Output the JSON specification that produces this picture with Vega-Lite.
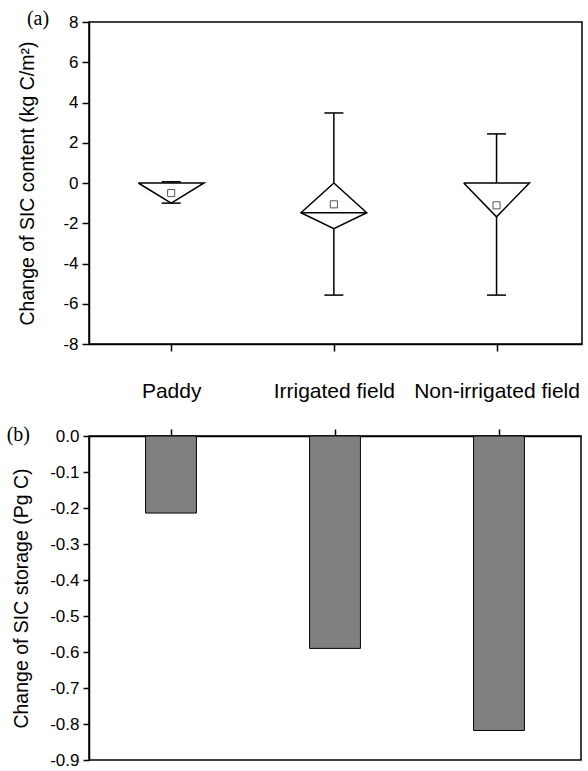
{
  "$schema": "https://vega.github.io/schema/vega-lite/v6.json",
  "padding": {"left": 5, "top": 8, "right": 5, "bottom": 0},
  "spacing": 22,
  "config": {
    "font": "Liberation Sans",
    "view": {"stroke": "black", "strokeWidth": 1.5},
    "axis": {
      "domainColor": "black", "domainWidth": 1.5, "tickColor": "black", "tickWidth": 1.5,
      "labelColor": "black", "titleColor": "black", "grid": false,
      "labelFont": "Liberation Sans", "titleFont": "Liberation Sans", "titleFontWeight": "normal",
      "labelFontSize": 17, "titleFontSize": 19.5
    },
    "title": {"font": "Liberation Serif", "fontSize": 20, "fontWeight": "normal", "color": "black"}
  },
  "datasets": {
    "shapes": [
      {"part": "paddy", "i": 0, "x": 0.3, "y": 0},
      {"part": "paddy", "i": 1, "x": 0.7, "y": 0},
      {"part": "paddy", "i": 2, "x": 0.5, "y": -1.0},
      {"part": "paddy", "i": 3, "x": 0.3, "y": 0},
      {"part": "irr", "i": 0, "x": 1.49, "y": 0},
      {"part": "irr", "i": 1, "x": 1.69, "y": -1.48},
      {"part": "irr", "i": 2, "x": 1.49, "y": -2.27},
      {"part": "irr", "i": 3, "x": 1.29, "y": -1.48},
      {"part": "irr", "i": 4, "x": 1.49, "y": 0},
      {"part": "irrmed", "i": 0, "x": 1.29, "y": -1.48},
      {"part": "irrmed", "i": 1, "x": 1.69, "y": -1.48},
      {"part": "non", "i": 0, "x": 2.28, "y": 0},
      {"part": "non", "i": 1, "x": 2.68, "y": 0},
      {"part": "non", "i": 2, "x": 2.48, "y": -1.68},
      {"part": "non", "i": 3, "x": 2.28, "y": 0}
    ],
    "stats": [
      {"cat": "Paddy", "xc": 0.5, "min": -1.0, "q1": -1.0, "med": 0, "q3": 0, "max": 0.06, "mean": -0.5},
      {"cat": "Irrigated field", "xc": 1.49, "min": -5.57, "q1": -2.27, "med": -1.48, "q3": 0, "max": 3.48, "mean": -1.06},
      {"cat": "Non-irrigated field", "xc": 2.48, "min": -5.57, "q1": -1.68, "med": 0, "q3": 0, "max": 2.44, "mean": -1.11}
    ],
    "storage": [
      {"cat": "Paddy", "value": -0.214},
      {"cat": "Irrigated field", "value": -0.59},
      {"cat": "Non-irrigated field", "value": -0.818}
    ]
  },
  "vconcat": [
    {
      "width": 493,
      "height": 322,
      "title": {"text": "(a)", "anchor": "start", "frame": "bounds", "offset": -32, "baseline": "alphabetic", "dx": 9},
      "layer": [
        {
          "data": {"name": "shapes"},
          "mark": {"type": "line", "color": "black", "strokeWidth": 1.5},
          "encoding": {
            "x": {"field": "x", "type": "quantitative", "scale": {"domain": [0, 3], "nice": false, "zero": false},
              "axis": {"values": [0.5, 1.49, 2.48], "title": null, "tickSize": 7, "labelPadding": 29, "labelFontSize": 21,
                "labelExpr": "datum.value < 1 ? 'Paddy' : datum.value < 2 ? 'Irrigated field' : 'Non-irrigated field'"}},
            "y": {"field": "y", "type": "quantitative", "scale": {"domain": [-8, 8], "nice": false},
              "axis": {"values": [-8, -7, -6, -5, -4, -3, -2, -1, 0, 1, 2, 3, 4, 5, 6, 7, 8],
                "title": "Change of SIC content (kg C/m²)", "titlePadding": 25, "labelPadding": 4,
                "tickSize": {"condition": {"test": "datum.value % 2 !== 0", "value": 4}, "value": 7},
                "labelExpr": "datum.value % 2 === 0 ? '' + datum.value : ''"}},
            "detail": {"field": "part"},
            "order": {"field": "i", "type": "quantitative"}
          }
        },
        {
          "data": {"name": "stats"},
          "mark": {"type": "rule", "color": "black", "strokeWidth": 1.5},
          "encoding": {
            "x": {"field": "xc", "type": "quantitative"},
            "y": {"field": "max", "type": "quantitative"},
            "y2": {"field": "q3"}
          }
        },
        {
          "data": {"name": "stats"},
          "mark": {"type": "rule", "color": "black", "strokeWidth": 1.5},
          "encoding": {
            "x": {"field": "xc", "type": "quantitative"},
            "y": {"field": "q1", "type": "quantitative"},
            "y2": {"field": "min"}
          }
        },
        {
          "data": {"name": "stats"},
          "mark": {"type": "tick", "orient": "horizontal", "size": 19, "thickness": 1.5, "color": "black", "opacity": 1},
          "encoding": {
            "x": {"field": "xc", "type": "quantitative"},
            "y": {"field": "max", "type": "quantitative"}
          }
        },
        {
          "data": {"name": "stats"},
          "mark": {"type": "tick", "orient": "horizontal", "size": 19, "thickness": 1.5, "color": "black", "opacity": 1},
          "encoding": {
            "x": {"field": "xc", "type": "quantitative"},
            "y": {"field": "min", "type": "quantitative"}
          }
        },
        {
          "data": {"name": "stats"},
          "mark": {"type": "point", "shape": "square", "size": 50, "filled": false, "color": "#555555", "strokeWidth": 1, "opacity": 1},
          "encoding": {
            "x": {"field": "xc", "type": "quantitative"},
            "y": {"field": "mean", "type": "quantitative"}
          }
        }
      ]
    },
    {
      "width": 492,
      "height": 324,
      "title": {"text": "(b)", "anchor": "start", "frame": "bounds", "offset": -34, "baseline": "alphabetic", "dx": -5},
      "data": {"name": "storage"},
      "mark": {"type": "bar", "color": "#808080", "stroke": "black", "strokeWidth": 1, "width": {"band": 0.31}},
      "encoding": {
        "x": {"field": "cat", "type": "nominal", "sort": null, "scale": {"paddingInner": 0, "paddingOuter": 0},
          "axis": {"orient": "top", "labels": false, "title": null, "tickSize": 7}},
        "y": {"field": "value", "type": "quantitative", "scale": {"domain": [-0.9, 0], "nice": false},
          "axis": {"values": [-0.9, -0.8, -0.7, -0.6, -0.5, -0.4, -0.3, -0.2, -0.1, 0],
            "format": ".1f", "labelExpr": "replace(datum.label, '\u2212', '-')",
            "title": "Change of SIC storage (Pg C)", "titlePadding": 18, "labelPadding": 4, "tickSize": 6}}
      }
    }
  ]
}
